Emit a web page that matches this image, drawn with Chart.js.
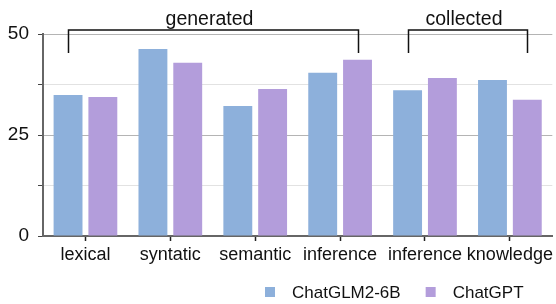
<!DOCTYPE html>
<html>
<head>
<meta charset="utf-8">
<script src="https://cdn.jsdelivr.net/npm/chart.js@4"></script>
<style>
  html, body { margin: 0; padding: 0; background: #fff; }
  #wrap { width: 556px; height: 304px; }
</style>
</head>
<body>
<div id="wrap"><canvas id="chart"></canvas></div>
<script>
// data
const categories = ['lexical', 'syntatic', 'semantic', 'inference', 'inference', 'knowledge'];
const glmValues = [34.9, 46.3, 32.2, 40.4, 36.1, 38.6];
const gptValues = [34.4, 42.9, 36.4, 43.6, 39.1, 33.7];
const seriesNames = ['ChatGLM2-6B', 'ChatGPT'];
const yTickLabels = [0, 25, 50];
const groupNames = ['generated', 'collected'];
const groupFirst = [0, 4];
const groupLast = [3, 5];

const FONT = "'Liberation Sans', Arial, sans-serif";
const colors = ['#8DB0DB', '#B39DDB'];

// brackets with the group names above the bars
const bracketPlugin = {
  id: 'brackets',
  afterDraw(chart) {
    const ctx = chart.ctx;
    const area = chart.chartArea;
    const m0 = chart.getDatasetMeta(0), m1 = chart.getDatasetMeta(1);
    ctx.save();
    ctx.strokeStyle = '#111';
    ctx.lineWidth = 1.5;
    ctx.fillStyle = '#111';
    ctx.font = '19.5px ' + FONT;
    ctx.textAlign = 'center';
    ctx.textBaseline = 'alphabetic';
    groupNames.forEach((name, i) => {
      const x1 = Math.round(m0.data[groupFirst[i]].x) + 0.5;
      const x2 = Math.round(m1.data[groupLast[i]].x) + 0.5;
      const top = area.top - 4, bot = area.top + 19;
      ctx.beginPath();
      ctx.moveTo(x1, bot);
      ctx.lineTo(x1, top);
      ctx.lineTo(x2, top);
      ctx.lineTo(x2, bot);
      ctx.stroke();
      ctx.fillText(name, (x1 + x2) / 2 - 4, top - 5);
    });
    ctx.restore();
  }
};

// legend at the bottom right
const legendPlugin = {
  id: 'customLegend',
  afterDraw(chart) {
    const ctx = chart.ctx;
    ctx.save();
    ctx.font = '17px ' + FONT;
    ctx.textBaseline = 'middle';
    ctx.textAlign = 'left';
    let x = 265;
    const y = 292;
    chart.data.datasets.forEach(ds => {
      ctx.fillStyle = ds.backgroundColor;
      ctx.fillRect(x, y - 5, 10, 10);
      ctx.fillStyle = '#111';
      ctx.fillText(ds.label, x + 27, y + 1);
      x += 27 + ctx.measureText(ds.label).width + 25;
    });
    ctx.restore();
  }
};

const ctx = document.getElementById('chart').getContext('2d');
const chart = new Chart(ctx, {
  type: 'bar',
  data: {
    labels: categories,
    datasets: [
      { label: seriesNames[0], data: glmValues, backgroundColor: colors[0] },
      { label: seriesNames[1], data: gptValues, backgroundColor: colors[1] }
    ]
  },
  options: {
    responsive: true,
    maintainAspectRatio: false,
    animation: false,
    devicePixelRatio: 1,
    categoryPercentage: 0.82,
    barPercentage: 0.83,
    layout: { padding: { top: 34, right: 1, bottom: 0, left: 0 } },
    plugins: {
      legend: { display: false },
      tooltip: { enabled: false }
    },
    scales: {
      x: {
        afterFit(scale) { scale.height = 68; },
        grid: { offset: false, drawOnChartArea: false, drawTicks: true, tickLength: 5, tickColor: '#222', tickWidth: 1.5 },
        border: { color: '#666', width: 2 },
        ticks: { color: '#111', font: { family: FONT, size: 18 }, padding: 3, maxRotation: 0, autoSkip: false }
      },
      y: {
        min: 0,
        max: 50,
        afterFit(scale) { scale.width = 43; },
        afterBuildTicks(scale) {
          const t = [];
          for (let v = 0; v <= 50; v += 12.5) t.push({ value: v });
          scale.ticks = t;
        },
        grid: {
          color: c => (c.tick && yTickLabels.includes(c.tick.value)) ? '#b4b4b4' : '#e2e2e2',
          lineWidth: 1,
          borderDash: [4, 3],
          tickBorderDash: [],
          tickColor: '#444',
          tickLength: 5,
          drawTicks: true
        },
        border: { color: '#666', width: 2 },
        ticks: {
          color: '#111',
          font: { family: FONT, size: 19 },
          padding: 9,
          callback: v => yTickLabels.includes(v) ? String(v) : ''
        }
      }
    }
  },
  plugins: [bracketPlugin, legendPlugin]
});
</script>
</body>
</html>
